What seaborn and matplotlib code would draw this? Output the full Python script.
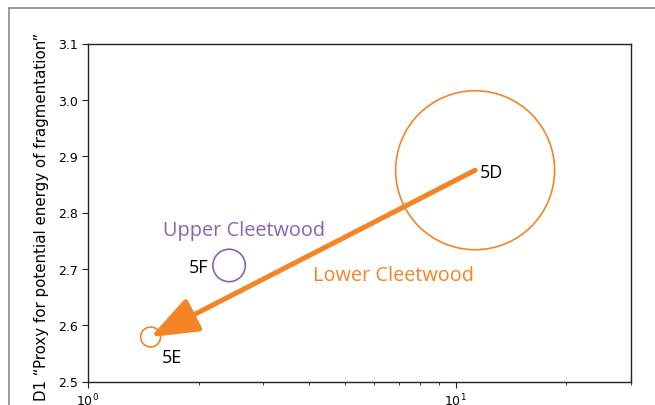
import matplotlib
matplotlib.use("Agg")
import matplotlib.pyplot as plt
from matplotlib.lines import Line2D
import seaborn as sns
import pandas as pd

# ---- data ----
samples = ["5D", "5E", "5F"]
x_vals = [11.3, 1.48, 2.42]
y_vals = [2.875, 2.579, 2.706]
groups = ["Lower Cleetwood", "Lower Cleetwood", "Upper Cleetwood"]
y_ticks = [2.5, 2.6, 2.7, 2.8, 2.9, 3.0, 3.1]
y_label = "D1 \u201cProxy for potential energy of fragmentation\u201d"

# ---- styles ----
ORANGE = "#F58426"
PURPLE = "#8C62AE"
palette = {"Lower Cleetwood": ORANGE, "Upper Cleetwood": PURPLE}
marker_area = {"5D": 13100, "5E": 205, "5F": 545}

sns.set_style("ticks")
plt.rcParams["font.family"] = ["DejaVu Sans"]

df = pd.DataFrame({"sample": samples, "x": x_vals, "y": y_vals, "group": groups})

fig = plt.figure(figsize=(6.55, 4.06), dpi=100)
ax = fig.add_axes([88 / 655, 1 - 382.5 / 406, 543 / 655, 338 / 406])

sns.scatterplot(data=df, x="x", y="y", hue="group", palette=palette,
                size="sample", sizes=marker_area, legend=False, ax=ax,
                zorder=3)
coll = ax.collections[0]
fc = coll.get_facecolors()
coll.set_edgecolors(fc)
coll.set_facecolors("none")
coll.set_linewidths(1.2)

ax.set_xscale("log")
ax.set_xlim(1, 30)
ax.set_ylim(2.5, 3.1)
ax.set_yticks(y_ticks)
ax.set_yticklabels([f"{v:.1f}" for v in y_ticks])
ax.set_xlabel("")
ax.set_ylabel(y_label, fontsize=10.8, labelpad=3, color="black")
ax.yaxis.set_label_coords(-0.072, 0.49)
for sp in ax.spines.values():
    sp.set_color("#222222")
    sp.set_linewidth(1.0)
ax.tick_params(axis="both", which="major", labelsize=9, colors="#222222",
               labelcolor="black", length=4)
ax.tick_params(axis="x", which="minor", length=2.5, colors="#222222")

# arrow from 5D to 5E
d = df.set_index("sample")
ax.annotate("", xy=(d.loc["5E", "x"], d.loc["5E", "y"]),
            xytext=(d.loc["5D", "x"], d.loc["5D", "y"]),
            arrowprops=dict(arrowstyle="-|>,head_length=2.9,head_width=1.1",
                            mutation_scale=10, lw=3.6, color=ORANGE,
                            shrinkA=0, shrinkB=0, capstyle="round"),
            zorder=4)

lab_font = ["Open Sans", "DejaVu Sans"]
offsets = {"5D": (3.2, -4.8, "left"), "5F": (-15, -4.8, "right"),
           "5E": (7.9, -18, "left")}
for s in samples:
    dx, dy, ha = offsets[s]
    ax.annotate(s, (d.loc[s, "x"], d.loc[s, "y"]), xytext=(dx, dy),
                textcoords="offset points", ha=ha, va="baseline",
                fontsize=13, family=lab_font, color="black", zorder=5)

ax.text(0.138, 0.434, "Upper Cleetwood", transform=ax.transAxes,
        ha="left", va="baseline", fontsize=14.3, family=lab_font, color=PURPLE)
ax.text(0.414, 0.301, "Lower Cleetwood", transform=ax.transAxes,
        ha="left", va="baseline", fontsize=14.3, family=lab_font, color=ORANGE)

# outer frame (partially visible)
fig.add_artist(Line2D([9 / 655, 9 / 655], [0, 1 - 8.5 / 406],
                      transform=fig.transFigure, color="#8a8a8a", lw=1.2))
fig.add_artist(Line2D([9 / 655, 1], [1 - 8.5 / 406, 1 - 8.5 / 406],
                      transform=fig.transFigure, color="#8a8a8a", lw=1.2))

fig.savefig("out.png", dpi=100)
